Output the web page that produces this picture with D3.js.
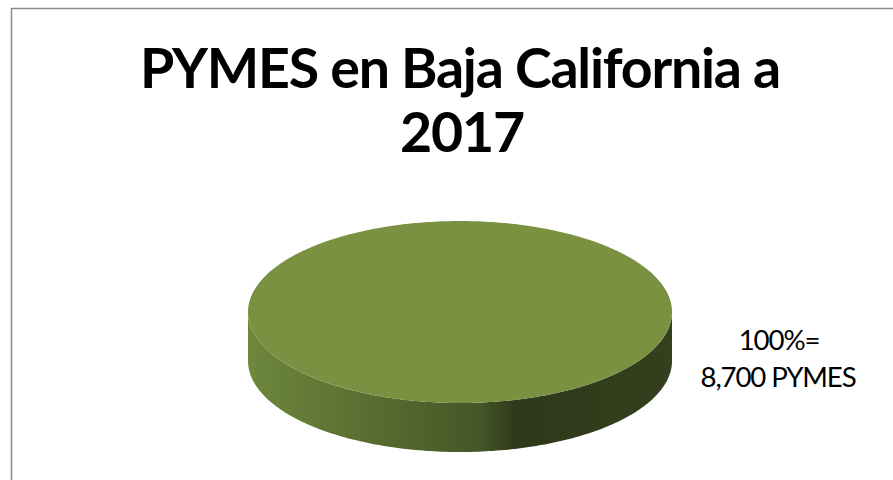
<!DOCTYPE html>
<html><head><meta charset="utf-8">
<script src="https://cdn.jsdelivr.net/npm/d3@7"></script>
<style>html,body{margin:0;padding:0;background:#fff;}svg{display:block;}</style>
</head><body>
<script>
const titleLines = ["PYMES en Baja California a", "2017"];
const categories = ["PYMES"];
const values = [8700];
const labelLines = ["100%=", "8,700 PYMES"];

const W = 893, H = 480;
const svg = d3.select("body").append("svg").attr("width", W).attr("height", H);

// chart border (clipped by the window on right and bottom)
svg.append("rect").attr("x", 11.5).attr("y", 8.5).attr("width", 1000).attr("height", 1000)
  .attr("fill", "none").attr("stroke", "#8c8c8c").attr("stroke-width", 1.5);

// gradient for the side wall
const defs = svg.append("defs");
const grad = defs.append("linearGradient").attr("id", "side").attr("gradientUnits", "userSpaceOnUse")
  .attr("x1", 248).attr("x2", 672).attr("y1", 0).attr("y2", 0);
[[0, "#6e883c"], [0.3, "#576c30"], [0.55, "#455628"], [0.63, "#2e391a"], [1, "#343f1d"]]
  .forEach(([o, c]) => grad.append("stop").attr("offset", o).attr("stop-color", c));

// pie geometry
const cx = 460, cy = 312, rx = 212, ry = 91, depth = 49;
const pie = d3.pie().sort(null).value(d => d)(values);
const angScale = d3.scaleLinear().domain([0, 2 * Math.PI]).range([0, 2 * Math.PI]);
const line = d3.line().curve(d3.curveLinearClosed);

pie.forEach((s, i) => {
  const a0 = angScale(s.startAngle), a1 = angScale(s.endAngle);
  const n = 180;
  const sidePts = [];
  const lo = 0, hi = Math.PI;
  for (let k = 0; k <= n; k++) { const t = lo + (hi - lo) * k / n; sidePts.push([cx + rx * Math.cos(t), cy + ry * Math.sin(t)]); }
  for (let k = n; k >= 0; k--) { const t = lo + (hi - lo) * k / n; sidePts.push([cx + rx * Math.cos(t), cy + depth + ry * Math.sin(t)]); }
  svg.append("path").attr("d", line(sidePts)).attr("fill", "url(#side)");
  const topPts = [];
  const m = 360;
  for (let k = 0; k <= m; k++) { const t = a0 + (a1 - a0) * k / m - Math.PI / 2; topPts.push([cx + rx * Math.cos(t), cy + ry * Math.sin(t)]); }
  svg.append("path").attr("d", line(topPts)).attr("fill", "#7a9142");
});

// fit text to a target width, with a slightly larger size and tighter spacing
function fitText(sel, targetW, grow) {
  const fs0 = parseFloat(sel.attr("font-size"));
  const w0 = sel.node().getComputedTextLength();
  const fs = fs0 * targetW / w0 * grow;
  sel.attr("font-size", fs);
  const w1 = sel.node().getComputedTextLength();
  const nch = sel.text().length;
  sel.attr("letter-spacing", (targetW - w1) / nch);
  return fs;
}

const fontFam = "Lato, 'Open Sans', 'DejaVu Sans', sans-serif";
const t1 = svg.append("text").attr("x", 460).attr("y", 88).attr("text-anchor", "middle")
  .attr("font-family", fontFam).attr("font-weight", "bold").attr("font-size", 50).attr("fill", "#000")
  .text(titleLines[0]);
const fs1 = fitText(t1, 640, 1.05);
svg.append("text").attr("x", 462).attr("y", 152).attr("text-anchor", "middle")
  .attr("font-family", fontFam).attr("font-weight", "bold").attr("font-size", fs1).attr("fill", "#000")
  .attr("letter-spacing", t1.attr("letter-spacing"))
  .text(titleLines[1]);

const l2 = svg.append("text").attr("x", 778).attr("y", 387).attr("text-anchor", "middle")
  .attr("font-family", fontFam).attr("font-size", 24).attr("fill", "#000").text(labelLines[1]);
const fs2 = fitText(l2, 155, 1.08);
svg.append("text").attr("x", 779).attr("y", 350).attr("text-anchor", "middle")
  .attr("font-family", fontFam).attr("font-size", fs2).attr("fill", "#000")
  .attr("letter-spacing", l2.attr("letter-spacing")).text(labelLines[0]);
</script>
</body></html>
